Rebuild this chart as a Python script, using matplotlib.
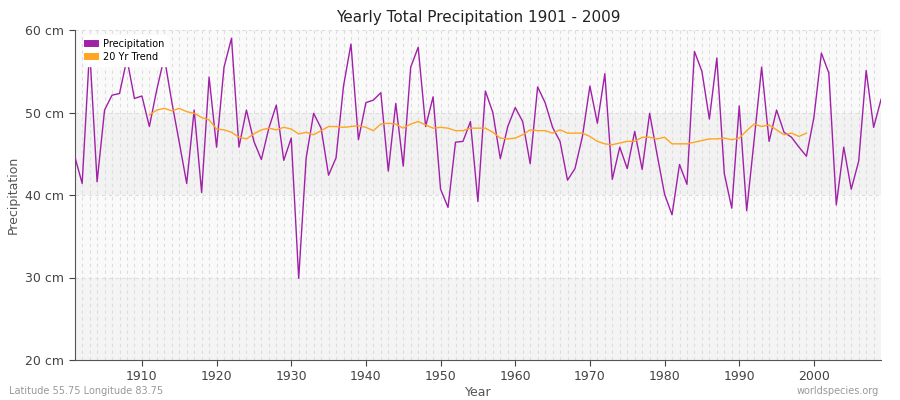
import matplotlib
matplotlib.use("Agg")
import matplotlib.pyplot as plt
import numpy as np

years = list(range(1901, 2010))
precip = [44.7, 41.4, 57.7, 41.6, 50.3, 52.1, 52.3, 56.5, 51.7, 52.0,
          48.3, 52.8, 56.7, 51.3, 46.4, 41.4, 50.3, 40.3, 54.3, 45.8,
          55.5, 59.0, 45.8, 50.3, 46.5, 44.3, 48.1, 50.9, 44.2, 46.9,
          29.9, 44.5, 49.9, 48.1, 42.4, 44.5, 53.2,
          58.3, 46.7, 51.2, 51.5, 52.4, 42.9, 51.1, 43.5, 55.5, 57.9,
          48.3, 51.9, 40.7, 38.5, 46.4, 46.5, 48.9, 39.2, 52.6, 50.0,
          44.4, 48.3, 50.6, 48.9, 43.8, 53.1, 51.2, 48.2, 46.5, 41.8,
          43.2, 47.1, 53.2, 48.7, 54.7,
          41.9, 45.8, 43.2, 47.7, 43.1, 49.9, 44.9, 40.1, 37.6, 43.7,
          41.3, 57.4, 55.0, 49.2, 56.6, 42.6, 38.4, 50.8, 38.1, 46.7,
          55.5, 46.5, 50.3, 47.6, 47.0, 45.8, 44.7, 49.4, 57.2, 54.8,
          38.8, 45.8, 40.7, 44.1, 55.1, 48.2, 51.6]
trend_years = list(range(1911, 2000))
trend = [49.7, 50.3, 50.5, 50.2, 50.5, 50.1, 49.9, 49.4, 49.1, 48.0,
         47.9, 47.6, 47.0, 46.8, 47.4, 47.9, 48.1, 47.9, 48.2, 48.0,
         47.4, 47.6, 47.3, 47.8, 48.3, 48.3, 48.2,
         48.3, 48.4, 48.2, 47.8, 48.6, 48.7, 48.6, 48.1, 48.6, 48.9,
         48.5, 48.1, 48.2, 48.1, 47.8, 47.8, 48.1, 48.1, 48.1, 47.6,
         46.9, 46.8, 46.9, 47.3, 47.9, 47.8, 47.8, 47.5, 47.9, 47.5,
         47.5, 47.5, 47.1, 46.5, 46.2, 46.1,
         46.3, 46.5, 46.5, 47.0, 47.0, 46.8, 47.0, 46.2, 46.2, 46.2,
         46.4, 46.6, 46.8, 46.8, 46.9, 46.7, 46.9, 47.8, 48.6, 48.3,
         48.5, 47.9, 47.3, 47.5, 47.1, 47.5]
yticks = [20, 30, 40, 50, 60]
ytick_labels = ["20 cm", "30 cm", "40 cm", "50 cm", "60 cm"]
xticks = [1910, 1920, 1930, 1940, 1950, 1960, 1970, 1980, 1990, 2000]

fig = plt.figure(figsize=(9, 4), dpi=100)
ax = fig.add_axes([0.083, 0.1, 0.896, 0.825])
ax.set_facecolor("white")
for lo, hi, c in [(20, 30, "#f4f4f4"), (30, 40, "#fafafa"), (40, 50, "#f2f2f2"), (50, 60, "#fafafa")]:
    ax.axhspan(lo, hi, color=c, zorder=0, lw=0)
for y in years:
    ax.axvline(y, color="#dddddd", lw=0.8, ls=(0, (3, 3)), zorder=1)
for y in yticks:
    ax.axhline(y, color="#dddddd", lw=0.8, ls=(0, (3, 3)), zorder=1)

ax.plot(years, precip, color="#a020a8", lw=1.0, label="Precipitation", zorder=3)
ax.plot(trend_years, trend, color="#ffa520", lw=1.0, label="20 Yr Trend", zorder=3)

ax.set_xlim(1901, 2009)
ax.set_ylim(20, 60)
ax.set_yticks(yticks)
ax.set_yticklabels(ytick_labels)
ax.set_xticks(xticks)
ax.tick_params(colors="#444444", labelsize=9, length=4)
for s in ["top", "right"]:
    ax.spines[s].set_visible(False)
for s in ["left", "bottom"]:
    ax.spines[s].set_color("#555555")
ax.set_title("Yearly Total Precipitation 1901 - 2009", fontsize=11, color="#222222")
ax.set_xlabel("Year", fontsize=9, color="#555555", labelpad=2)
ax.set_ylabel("Precipitation", fontsize=9, color="#555555")
leg = ax.legend(loc="upper left", fontsize=7, handlelength=0.8, handleheight=0.8,
                frameon=True, framealpha=1, edgecolor="white", borderpad=0.4,
                labelspacing=0.3, bbox_to_anchor=(0.005, 1.0))
for h in leg.legend_handles:
    h.set_linewidth(5)
fig.text(0.01, 0.015, "Latitude 55.75 Longitude 83.75", fontsize=7, color="#999999")
fig.text(0.977, 0.015, "worldspecies.org", fontsize=7, color="#999999", ha="right")
fig.savefig("out.png")
